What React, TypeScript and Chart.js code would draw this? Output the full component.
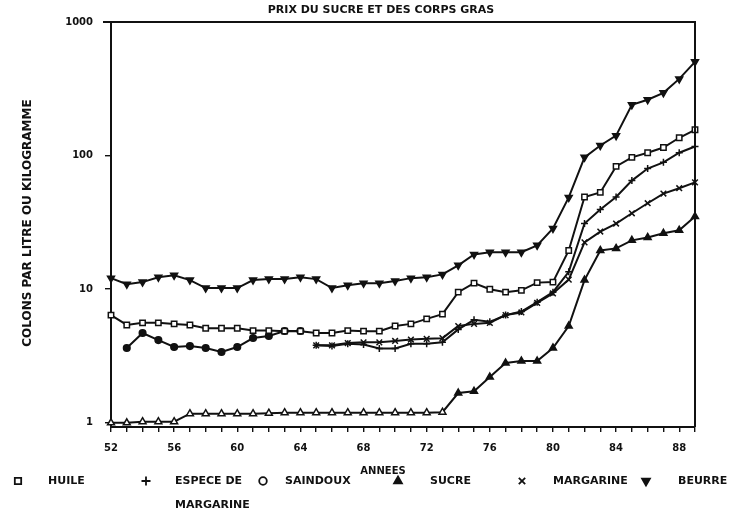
import React, { useEffect, useRef } from "react";
import { Chart, registerables } from "chart.js";
import { drawPoint } from "chart.js/helpers";

Chart.register(...registerables);

const YEARS = [52, 53, 54, 55, 56, 57, 58, 59, 60, 61, 62, 63, 64, 65, 66, 67, 68, 69, 70, 71, 72, 73, 74, 75, 76, 77, 78, 79, 80, 81, 82, 83, 84, 85, 86, 87, 88, 89];

const HUILE = [6.4, 5.4, 5.6, 5.6, 5.5, 5.4, 5.1, 5.1, 5.1, 4.9,
  4.9, 4.85, 4.85, 4.7, 4.7, 4.9, 4.85, 4.85, 5.3, 5.5,
  6.0, 6.5, 9.5, 11.1, 10.0, 9.5, 9.8, 11.2, 11.3, 19.5,
  49, 53, 83, 97, 105, 115, 136, 156];

const ESPECE = [null, null, null, null, null, null, null, null, null, null,
  null, null, null, 3.8, 3.75, 3.9, 3.85, 3.6, 3.6, 3.9,
  3.9, 4.0, 5.0, 5.9, 5.7, 6.4, 6.8, 8.0, 9.5, 13.5,
  31, 39.5, 49, 65, 80, 89, 105, 117];

const SAINDOUX = [null, 3.63, 4.7, 4.16, 3.69, 3.75, 3.63, 3.39, 3.69, 4.31,
  4.46, 4.86, 4.86, null, null, null, null, null, null, null,
  null, null, null, null, null, null, null, null, null, null,
  null, null, null, null, null, null, null, null];

const SUCRE = [1.0, 1.0, 1.02, 1.02, 1.02, 1.17, 1.17, 1.17, 1.17, 1.17,
  1.18, 1.19, 1.19, 1.19, 1.19, 1.19, 1.19, 1.19, 1.19, 1.19,
  1.19, 1.2, 1.67, 1.72, 2.2, 2.8, 2.9, 2.9, 3.63, 5.3,
  11.7, 19.5, 20.2, 23.2, 24.4, 26.2, 27.6, 35];

const MARGARINE = [null, null, null, null, null, null, null, null, null, null,
  null, null, null, 3.8, 3.8, 3.95, 4.0, 4.0, 4.1, 4.2,
  4.25, 4.3, 5.3, 5.5, 5.6, 6.4, 6.7, 7.9, 9.3, 11.8,
  22.4, 27, 31, 37, 44, 52, 57, 63];

const BEURRE = [12.1, 10.9, 11.3, 12.3, 12.7, 11.7, 10.2, 10.2, 10.2, 11.7,
  11.9, 11.9, 12.3, 11.9, 10.2, 10.7, 11.1, 11.1, 11.5, 12.1,
  12.3, 12.9, 15.1, 18.2, 18.9, 18.9, 18.9, 21.3, 28.5, 48.6,
  97, 119, 141, 240, 262, 295, 375, 503];

const Y_TICKS = [1, 10, 100, 1000];
const X_LABEL_STEP = 4;

const TITLE = "PRIX DU SUCRE ET DES CORPS GRAS";
const Y_TITLE = "COLONS PAR LITRE OU KILOGRAMME";
const X_TITLE = "ANNEES";

const INK = "#111";
const FONT = "DejaVu Sans";

const toPoints = (vals: (number | null)[]) => YEARS.map((yr, i) => ({ x: yr, y: vals[i] }));

export default function App() {
  const ref = useRef<HTMLCanvasElement | null>(null);

  useEffect(() => {
    document.body.style.margin = "0";
    const canvas = ref.current;
    if (!canvas) return;

    const legendItems = [
      { mx: 18, tx: 48, lines: ["HUILE"], style: "rect", fill: "#fff", r: 4.5, rot: 0 },
      { mx: 146, tx: 175, lines: ["ESPECE DE", "MARGARINE"], style: "cross", fill: INK, r: 4.5, rot: 0 },
      { mx: 263, tx: 285, lines: ["SAINDOUX"], style: "circle", fill: "#fff", r: 3.8, rot: 0 },
      { mx: 398, tx: 430, lines: ["SUCRE"], style: "triangle", fill: INK, r: 4.5, rot: 0 },
      { mx: 522, tx: 553, lines: ["MARGARINE"], style: "crossRot", fill: INK, r: 4.5, rot: 0 },
      { mx: 646, tx: 678, lines: ["BEURRE"], style: "triangle", fill: INK, r: 4.5, rot: 180 },
    ];

    const decor = {
      id: "decor",
      afterDraw(chart: any) {
        const { ctx, chartArea } = chart;
        ctx.save();
        ctx.strokeStyle = INK;
        ctx.lineWidth = 2;
        ctx.beginPath();
        ctx.moveTo(chartArea.left - 8, chartArea.top);
        ctx.lineTo(chartArea.right, chartArea.top);
        ctx.lineTo(chartArea.right, chartArea.bottom);
        ctx.stroke();

        ctx.fillStyle = INK;
        ctx.textBaseline = "middle";
        ctx.textAlign = "center";
        ctx.font = `bold 11px "${FONT}"`;
        ctx.fillText(TITLE, 381, 10);

        ctx.font = `bold 10px "${FONT}"`;
        ctx.fillText(X_TITLE, 383, 471);

        ctx.save();
        ctx.translate(28, 223);
        ctx.rotate(-Math.PI / 2);
        ctx.font = `bold 12px "${FONT}"`;
        ctx.fillText(Y_TITLE, 0, 0);
        ctx.restore();

        ctx.textAlign = "left";
        ctx.font = `bold 11px "${FONT}"`;
        for (const it of legendItems) {
          ctx.fillStyle = it.fill;
          ctx.strokeStyle = INK;
          ctx.lineWidth = 1.8;
          drawPoint(ctx, { pointStyle: it.style, radius: it.r, rotation: it.rot, borderWidth: 1.8 } as any, it.mx, 481);
          ctx.fillStyle = INK;
          it.lines.forEach((t, k) => ctx.fillText(t, it.tx, 481 + k * 24));
        }
        ctx.restore();
      },
    };

    const base = {
      borderColor: INK,
      borderWidth: 2,
      pointBorderColor: INK,
      pointBorderWidth: 1.5,
      tension: 0,
      spanGaps: false,
      clip: false as any,
    };

    const chart = new Chart(canvas, {
      type: "line",
      data: {
        datasets: [
          { ...base, label: "HUILE", data: toPoints(HUILE), pointStyle: "rect", pointRadius: 3.8, pointBackgroundColor: "#fff" },
          { ...base, label: "ESPECE DE MARGARINE", data: toPoints(ESPECE), pointStyle: "cross", pointRadius: 3.5, pointBackgroundColor: INK },
          { ...base, label: "SAINDOUX", data: toPoints(SAINDOUX), pointStyle: "circle", pointRadius: 3.3, pointBackgroundColor: INK },
          {
            ...base, label: "SUCRE", data: toPoints(SUCRE), pointStyle: "triangle", pointRadius: 4,
            pointBackgroundColor: (c: any) => (c.raw && c.raw.x < 74 ? "#fff" : INK),
          },
          { ...base, label: "MARGARINE", data: toPoints(MARGARINE), pointStyle: "crossRot", pointRadius: 4, pointBackgroundColor: INK },
          { ...base, label: "BEURRE", data: toPoints(BEURRE), pointStyle: "triangle", pointRotation: 180, pointRadius: 4, pointBackgroundColor: INK },
        ] as any,
      },
      options: {
        animation: false,
        responsive: true,
        maintainAspectRatio: false,
        layout: { padding: { top: 22, right: 43, bottom: 53, left: 0 } },
        plugins: { legend: { display: false }, title: { display: false }, tooltip: { enabled: false } },
        scales: {
          x: {
            type: "linear",
            min: 52,
            max: 89,
            afterFit: (s: any) => { s.height = 30; },
            border: { display: true, color: INK, width: 2 },
            grid: { drawOnChartArea: false, drawTicks: true, tickLength: 5, color: INK, lineWidth: 1.4 },
            ticks: {
              stepSize: 1,
              autoSkip: false,
              maxRotation: 0,
              padding: 10,
              color: INK,
              font: { family: FONT, size: 10, weight: "bold" },
              callback: (v: any) => ((Number(v) - YEARS[0]) % X_LABEL_STEP === 0 ? String(v) : ""),
            },
          },
          y: {
            type: "logarithmic",
            min: 0.93,
            max: 1000,
            afterFit: (s: any) => { s.width = 111; },
            afterBuildTicks: (s: any) => { s.ticks = Y_TICKS.map((v) => ({ value: v })); },
            border: { display: true, color: INK, width: 2 },
            grid: { drawOnChartArea: false, drawTicks: true, tickLength: 6, color: INK, lineWidth: 1.4 },
            ticks: {
              padding: 12,
              color: INK,
              font: { family: FONT, size: 10, weight: "bold" },
              callback: (v: any) => String(v),
            },
          },
        },
      },
      plugins: [decor],
    });

    return () => chart.destroy();
  }, []);

  return (
    <div style={{ position: "relative", width: 738, height: 510 }}>
      <canvas ref={ref} />
    </div>
  );
}
